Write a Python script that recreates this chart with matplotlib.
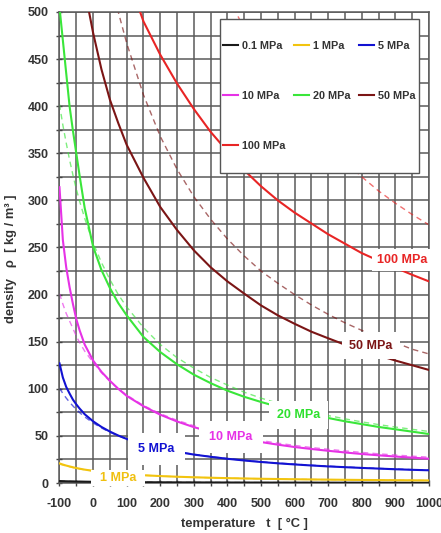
import matplotlib
matplotlib.use('Agg')
import matplotlib.pyplot as plt
from matplotlib.patches import Rectangle

plt.rcParams['font.family'] = ['Liberation Sans', 'DejaVu Sans']
plt.rcParams['font.weight'] = 'bold'
plt.rcParams['axes.unicode_minus'] = False

# ---------------- data ----------------
temps = [-100, -90, -80, -70, -60, -50, -40, -25, 0, 25, 50, 75, 100, 150, 200, 250, 300,
         350, 400, 450, 500, 550, 600, 650, 700, 750, 800, 850, 900, 950, 1000]

real_01 = [2.04, 1.92, 1.82, 1.73, 1.64, 1.57, 1.50, 1.41, 1.28, 1.17, 1.08, 1.00, 0.93, 0.82, 0.74, 0.67,
           0.61, 0.56, 0.52, 0.48, 0.45, 0.42, 0.40, 0.38, 0.36, 0.34, 0.32, 0.31, 0.30, 0.28, 0.27]
ideal_01 = [2.01, 1.90, 1.80, 1.72, 1.64, 1.56, 1.49, 1.40, 1.28, 1.17, 1.08, 1.00, 0.93, 0.82, 0.74, 0.67,
            0.61, 0.56, 0.52, 0.48, 0.45, 0.42, 0.40, 0.38, 0.36, 0.34, 0.32, 0.31, 0.30, 0.28, 0.27]
real_1 = [20.8, 19.6, 18.5, 17.6, 16.7, 15.9, 15.2, 14.2, 12.9, 11.8, 10.85, 10.05, 9.36, 8.24, 7.36, 6.66,
          6.08, 5.59, 5.17, 4.81, 4.50, 4.23, 3.99, 3.77, 3.58, 3.40, 3.24, 3.10, 2.97, 2.85, 2.74]
ideal_1 = [20.1, 19.0, 18.0, 17.2, 16.4, 15.6, 14.9, 14.0, 12.8, 11.7, 10.8, 10.0, 9.34, 8.23, 7.36, 6.66,
           6.08, 5.59, 5.18, 4.82, 4.51, 4.23, 3.99, 3.77, 3.58, 3.41, 3.25, 3.10, 2.97, 2.85, 2.74]
real_5 = [127, 112, 102, 95, 88.5, 83.5, 79, 73, 65.5, 59.5, 54.6, 50.4, 46.8, 41.0, 36.6, 33.1, 30.2,
          27.8, 25.7, 23.9, 22.3, 20.9, 19.7, 18.6, 17.6, 16.8, 16.0, 15.3, 14.6, 14.0, 13.5]
ideal_5 = [100.6, 95.1, 90.2, 85.8, 81.8, 78.1, 74.7, 70.2, 63.8, 58.4, 53.9, 50.0, 46.7, 41.2, 36.8, 33.3,
           30.4, 28.0, 25.9, 24.1, 22.5, 21.2, 20.0, 18.9, 17.9, 17.0, 16.2, 15.5, 14.9, 14.2, 13.7]
real_10 = [314, 258, 229, 208, 190, 174, 162, 147, 130, 118, 108.5, 100, 92.5, 81.5, 72.5, 65.3, 59.3,
           54.3, 50.2, 46.6, 43.5, 40.7, 38.2, 36.1, 34.2, 32.4, 30.8, 29.4, 28.1, 26.9, 25.8]
ideal_10 = [201, 190, 180, 172, 164, 156, 149, 140, 128, 117, 108, 100, 93.4, 82.3, 73.6, 66.6, 60.8,
            55.9, 51.8, 48.2, 45.1, 42.3, 39.9, 37.7, 35.8, 34.1, 32.5, 31.0, 29.7, 28.5, 27.4]
real_20 = [505, 470, 435, 400, 374, 350, 326, 292, 251, 226, 207, 191, 178, 155, 139, 126, 115,
           106, 98, 91.5, 86, 81, 76.5, 72.5, 69, 65.5, 62.5, 59.5, 57, 54.5, 52]
ideal_20 = [402, 380, 361, 343, 327, 312, 299, 281, 255, 234, 216, 200, 187, 165, 147, 133, 122,
            112, 104, 96.4, 90.1, 84.7, 79.8, 75.5, 71.6, 68.1, 64.9, 62.0, 59.4, 57.0, 54.7]

temps_50 = [-25, 0, 25, 50, 75, 100, 150, 200, 250, 300, 350, 400, 450, 500, 550, 600, 650,
            700, 750, 800, 850, 900, 950, 1000]
real_50 = [524, 478, 439, 407, 382, 359, 324, 293, 268.5, 247, 229, 214, 201, 188.5, 178, 169, 160.6,
           153.6, 146.8, 141, 135.5, 130, 125, 120]
temps_50_ideal = [25, 50, 75, 100, 150, 200, 250, 300, 350, 400, 450, 500, 550, 600, 650, 700, 750,
                  800, 850, 900, 950, 1000]
ideal_50 = [585, 539, 500, 467, 412, 368, 333, 304, 280, 259, 241, 225, 212, 200, 189, 179, 170,
            162, 155, 149, 142, 137]

temps_100 = [125, 150, 200, 250, 300, 350, 400, 450, 500, 550, 600, 650, 700, 750, 800, 850, 900,
             950, 1000]
real_100 = [515, 490, 454.6, 424, 397, 372.7, 352, 332, 315, 300, 287, 275.5, 264, 254, 244, 236,
            228.5, 221, 214]
temps_100_ideal = [350, 400, 450, 500, 550, 600, 650, 700, 750, 800, 850, 900, 950, 1000]
ideal_100 = [559, 518, 482, 451, 423, 399, 377, 358, 341, 325, 310, 297, 285, 274]

legend_labels = ['0.1 MPa', '1 MPa', '5 MPa', '10 MPa', '20 MPa', '50 MPa', '100 MPa']

label_text = ['  1 MPa  ', '5 MPa', '10 MPa', '20 MPa', '50 MPa', '100 MPa']
label_t = [75, 189, 411, 611, 827, 919]
label_rho = [5, 36.4, 48.8, 72.5, 145.6, 236.7]

x_ticks = list(range(-100, 1001, 100))
y_ticks = list(range(0, 501, 50))

# ---------------- style ----------------
colors = ['#1a1a1a', '#f2c40f', '#1212d2', '#e632e6', '#3ae63a', '#7b1515', '#e82525']
label_colors = ['#f0c010', '#1212d2', '#e632e6', '#2ee02e', '#7b1515', '#e82525']
label_pads = [0.15, 0.8, 0.8, 0.65, 0.6, 0.4]
txt_col = '#333333'
grid_col = '#5a5a5a'

fig = plt.figure(figsize=(4.41, 5.33), dpi=100)
ax = fig.add_axes([0.1349, 0.0938, 0.8379, 0.8837])

series = [
    (temps, real_01, temps, ideal_01),
    (temps, real_1, temps, ideal_1),
    (temps, real_5, temps, ideal_5),
    (temps, real_10, temps, ideal_10),
    (temps, real_20, temps, ideal_20),
    (temps_50, real_50, temps_50_ideal, ideal_50),
    (temps_100, real_100, temps_100_ideal, ideal_100),
]

handles = []
for (tr, rr, ti, ri), c, lab in zip(series, colors, legend_labels):
    ax.plot(ti, ri, color=c, lw=1.0, alpha=0.65, linestyle=(0, (4, 3)), zorder=2)
    h, = ax.plot(tr, rr, color=c, lw=1.5, zorder=3, label=lab)
    handles.append(h)

for txt, t, r, c, p in zip(label_text, label_t, label_rho, label_colors, label_pads):
    ax.text(t, r, txt, color=c, fontsize=9, fontweight='bold', ha='center', va='center', zorder=4,
            bbox=dict(boxstyle='square,pad=%g' % p, facecolor='white', edgecolor='none'))

ax.set_xlim(-100, 1000)
ax.set_ylim(0, 500)
ax.set_xticks(x_ticks)
ax.set_xticks([v + 50 for v in x_ticks[:-1]], minor=True)
ax.set_yticks(y_ticks)
ax.set_yticks([v + 25 for v in y_ticks[:-1]], minor=True)
ax.grid(True, which='both', color=grid_col, lw=1.1)
ax.tick_params(axis='both', which='both', direction='inout', length=4, width=1, color='#444444',
               labelsize=9, labelcolor=txt_col)
ax.tick_params(axis='x', which='major', pad=9)
ax.tick_params(axis='y', which='major', pad=6)
for s in ax.spines.values():
    s.set_color(grid_col)
    s.set_linewidth(1.1)

ax.set_xlabel('temperature   t  [ °C ]', fontsize=9.3, fontweight='bold', color=txt_col)
ax.xaxis.set_label_coords(0.5, -0.074)
ax.set_ylabel('density   ρ  [ kg / m³ ]', fontsize=9.3, fontweight='bold', color=txt_col)
ax.yaxis.set_label_coords(-0.116, 0.476)

rect = Rectangle((0.4344, 0.658), 0.5386, 0.327, transform=ax.transAxes, facecolor='white',
                 edgecolor='#555555', lw=1.0, zorder=5)
ax.add_patch(rect)

order = [0, 3, 6, 1, 4, 2, 5]
leg = ax.legend([handles[i] for i in order], [legend_labels[i] for i in order], ncol=3,
                loc='center left', bbox_to_anchor=(0.4425, 0.8217), frameon=False,
                prop={'size': 7.8, 'weight': 'bold'}, labelcolor=txt_col,
                handlelength=1.35, handletextpad=0.4, columnspacing=0.8, labelspacing=3.7,
                borderpad=0, borderaxespad=0)
leg.set_zorder(6)

fig.savefig('out.png', dpi=100)
